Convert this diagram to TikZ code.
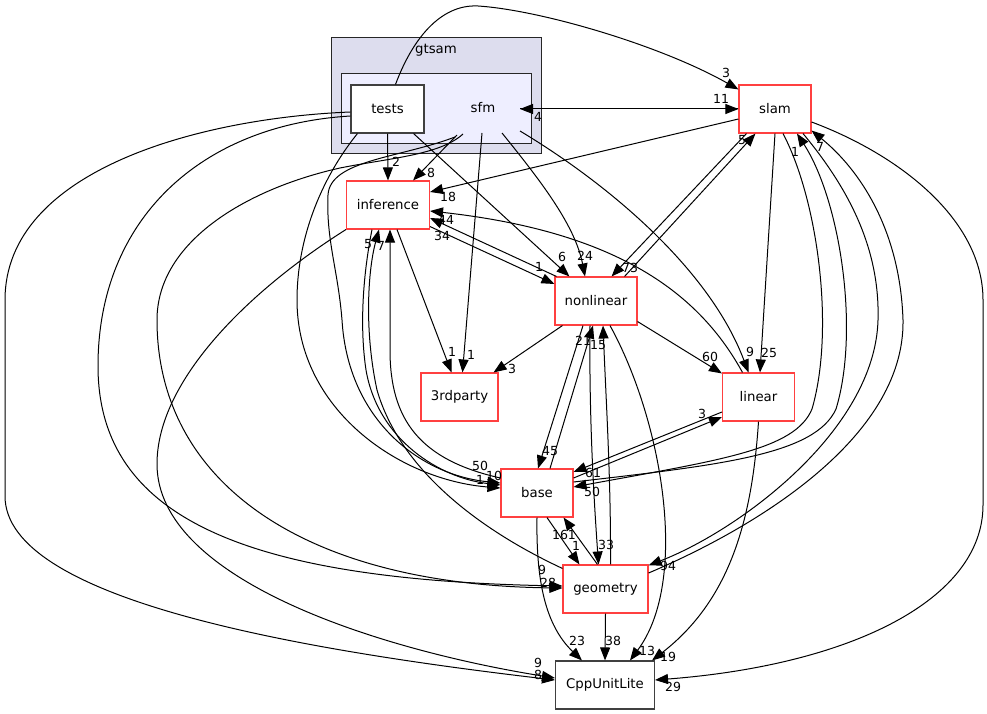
\documentclass[tikz,border=0pt]{standalone}
\usepackage{fontspec}
\setmainfont{DejaVu Sans}
\usetikzlibrary{arrows.meta,calc}
\definecolor{dred}{RGB}{255,64,64}
\definecolor{dgrey}{RGB}{64,64,64}
\definecolor{clA}{RGB}{221,221,238}
\definecolor{clB}{RGB}{238,238,255}
\begin{document}
\begin{tikzpicture}[x=1pt,y=-1pt,
 dirbox/.style={rectangle,draw=dred,line width=1.1pt,fill=white,inner sep=0pt,minimum height=48pt,font=\fontsize{13.3}{15}\selectfont},
 leafbox/.style={dirbox,draw=dgrey},
 edge/.style={line width=1pt,-{Triangle[length=13pt,width=10pt]}},
 lbl/.style={inner sep=0pt,font=\fontsize{12.5}{14}\selectfont},
 clus/.style={draw=black!85,line width=1pt},
 clabel/.style={inner sep=0pt,font=\fontsize{13.3}{15}\selectfont}]
\useasboundingbox (0,0) rectangle (987,714);

% clusters
\draw[clus,fill=clA] (331,38) rectangle (541,154);
\node[clabel] (gtsamlbl) at (436,50) {gtsam};
\draw[clus,fill=clB] (341,74) rectangle (531,144);
\node[clabel] (sfm) at (483,108) {sfm};

% nodes
\node[leafbox,minimum width=73pt] (tests) at (387.5,109) {tests};
\node[dirbox,minimum width=72pt] (slam) at (775,109) {slam};
\node[dirbox,minimum width=83pt] (inference) at (388,205) {inference};
\node[dirbox,minimum width=82pt] (nonlinear) at (596,301) {nonlinear};
\node[dirbox,minimum width=77pt] (thirdparty) at (459.5,397) {3rdparty};
\node[dirbox,minimum width=72pt] (linear) at (758.5,397) {linear};
\node[dirbox,minimum width=72pt] (base) at (537,493) {base};
\node[dirbox,minimum width=85pt] (geometry) at (605.5,589) {geometry};
\node[leafbox,minimum width=99pt] (cpp) at (605,685) {CppUnitLite};

% sfm anchor points
\coordinate (sfmR) at (520,109);
\coordinate (sfmA) at (457,135);
\coordinate (sfmB) at (463,134);
\coordinate (sfmC) at (455,137);
\coordinate (sfmD) at (482,133);
\coordinate (sfmE) at (502,133);
\coordinate (sfmF) at (520,131);

% sfm <-> slam
\draw[edge] (sfmR) -- (slam.west);
\draw[edge] (slam.west) -- (sfmR);
\node[lbl] (l11) at (721,99) {11};
\node[lbl] (l4) at (538,117) {4};

% tests -> slam
\draw[edge] ($(tests.north)+(8,0)$) .. controls (412,40) and (440,4) .. (478,6)
  .. controls (540,10) and (660,45) .. ($(slam.north west)+(0,5)$);
\node[lbl] (l3a) at (726,73) {3};

% tests -> inference
\draw[edge] (tests.south) -- (inference.north);
\node[lbl] (l2a) at (396,162) {2};

% sfm -> inference
\draw[edge] (sfmA) -- ($(inference.north east)+(-17,0)$);
\node[lbl] (l8a) at (431,173) {8};

% slam -> inference
\draw[edge] ($(slam.west)+(0,10)$) -- ($(inference.east)+(0,-13)$);
\node[lbl] (l18) at (448,197) {18};

% linear -> inference
\draw[edge] ($(linear.north)+(-16,0)$) .. controls (700,295) and (620,232) .. ($(inference.east)+(0,6)$);
\node[lbl] (l44) at (446,220) {44};

% nonlinear <-> inference
\draw[edge] ($(nonlinear.north west)+(2,0)$) -- ($(inference.east)+(0,13)$);
\node[lbl] (l34) at (442,236) {34};
\draw[edge] ($(inference.south east)+(0,-3)$) -- ($(nonlinear.west)+(0,-17)$);
\node[lbl] (l1a) at (539,267) {1};

% tests -> nonlinear
\draw[edge] ($(tests.south east)+(-11,0)$) -- ($(nonlinear.north west)+(15,0)$);
\node[lbl] (l6) at (562,257) {6};

% sfm -> nonlinear
\draw[edge] (sfmE) .. controls (540,180) and (575,225) .. ($(nonlinear.north)+(-11,0)$);
\node[lbl] (l24) at (585,256) {24};

% -> 3rdparty
\draw[edge] (sfmD) -- ($(thirdparty.north)+(3,0)$);
\node[lbl] (l1b) at (471,355) {1};
\draw[edge] ($(inference.south)+(9,0)$) -- ($(thirdparty.north)+(-8,0)$);
\node[lbl] (l1c) at (452,352) {1};
\draw[edge] ($(nonlinear.south west)+(8,0)$) -- ($(thirdparty.north east)+(-5,0)$);
\node[lbl] (l3b) at (512,369) {3};

% slam <-> nonlinear
\draw[edge] ($(slam.south west)+(8,0)$) -- ($(nonlinear.north east)+(-26,0)$);
\node[lbl] (l73) at (630,268) {73};
\draw[edge] ($(nonlinear.north east)+(-13,0)$) -- ($(slam.south west)+(17,0)$);
\node[lbl] (l5a) at (742,140) {5};

% -> linear
\draw[edge] (sfmF) .. controls (610,185) and (710,270) .. ($(linear.north)+(-10,0)$);
\node[lbl] (l9a) at (750,352) {9};
\draw[edge] (slam.south) -- ($(linear.north)+(1.5,0)$);
\node[lbl] (l25) at (769,353) {25};
\draw[edge] ($(nonlinear.south east)+(0,-4)$) -- ($(linear.north west)+(0,1)$);
\node[lbl] (l60) at (710,357) {60};

% linear <-> base
\draw[edge] ($(linear.west)+(0,15)$) -- ($(base.east)+(0,-21)$);
\node[lbl] (l61) at (593,473) {61};
\draw[edge] ($(base.east)+(0,-15)$) -- ($(linear.west)+(0,20)$);
\node[lbl] (l3c) at (702,414) {3};

% slam <-> base
\draw[edge] ($(slam.south)+(8,0)$) .. controls (818,200) and (835,330) .. (812,409)
  .. controls (795,450) and (720,460) .. ($(base.east)+(0,-6)$);
\node[lbl] (l50a) at (592,492) {50};
\draw[edge] ($(base.east)+(0,-11)$) .. controls (720,465) and (815,455) .. (836,409)
  .. controls (860,330) and (840,200) .. ($(slam.south)+(22,0)$);
\node[lbl] (l1d) at (795,152) {1};

% slam <-> geometry
\draw[edge] ($(slam.south)+(28,0)$) .. controls (850,190) and (880,250) .. (878,320)
  .. controls (875,430) and (740,530) .. ($(geometry.north east)+(0,1)$);
\node[lbl] (l94) at (668,566) {94};
\draw[edge] ($(geometry.east)+(0,-16)$) .. controls (750,530) and (905,440) .. (903,320)
  .. controls (900,230) and (860,170) .. ($(slam.south east)+(0,-3)$);
\node[lbl] (l7a) at (820,147) {7};

% slam -> CppUnitLite
\draw[edge] ($(slam.east)+(0,13)$) .. controls (900,155) and (983,220) .. (983,300)
  -- (983,505) .. controls (983,600) and (850,665) .. ($(cpp.east)+(0,-5)$);
\node[lbl] (l29) at (673,687) {29};

% linear -> CppUnitLite
\draw[edge] (linear.south) .. controls (752,520) and (730,600) .. ($(cpp.north east)+(-3,0)$);
\node[lbl] (l19) at (668,657) {19};

% nonlinear -> CppUnitLite
\draw[edge] ($(nonlinear.south)+(14,0)$) .. controls (662,420) and (690,580) .. ($(cpp.north)+(25,0)$);
\node[lbl] (l13) at (647,651) {13};

% geometry -> CppUnitLite
\draw[edge] (geometry.south) -- (cpp.north);
\node[lbl] (l38) at (613,641) {38};

% base -> CppUnitLite
\draw[edge] (base.south) .. controls (536,580) and (545,625) .. ($(cpp.north west)+(27,0)$);
\node[lbl] (l23) at (577,641) {23};

% nonlinear <-> base
\draw[edge] ($(nonlinear.south)+(-13,0)$) -- ($(base.north)+(1,0)$);
\node[lbl] (l45) at (550,451) {45};
\draw[edge] ($(base.north)+(13,0)$) -- ($(nonlinear.south)+(-3,0)$);
\node[lbl] (l21) at (583,341) {21};

% nonlinear <-> geometry
\draw[edge] ($(nonlinear.south)+(-6,0)$) .. controls (589,420) and (594,500) .. ($(geometry.north)+(-7,0)$);
\node[lbl] (l33) at (606,545) {33};
\draw[edge] ($(geometry.north)+(5,0)$) .. controls (611,480) and (606,400) .. ($(nonlinear.south)+(7,0)$);
\node[lbl] (l15) at (598,345) {15};

% base <-> geometry
\draw[edge] ($(base.south)+(10,0)$) -- ($(geometry.north west)+(17,0)$);
\node[lbl] (l1e) at (576,546) {1};
\draw[edge] ($(geometry.north)+(-8,0)$) -- ($(base.south east)+(-10,0)$);
\node[lbl] (l161) at (564,535) {161};

% inference -> CppUnitLite
\draw[edge] (inference.south west) .. controls (250,290) and (157,380) .. (157,464)
  .. controls (157,580) and (380,650) .. ($(cpp.west)+(0,-7)$);
% tests -> CppUnitLite
\draw[edge] ($(tests.west)+(0,3)$) .. controls (200,118) and (5,170) .. (5,300)
  -- (5,496) .. controls (5,600) and (300,650) .. ($(cpp.west)+(0,-5)$);
\node[lbl] (l9b) at (538,663) {9};
\node[lbl] (l8b) at (538,675) {8};

% tests -> geometry
\draw[edge] ($(tests.west)+(0,7)$) .. controls (200,125) and (98,220) .. (98,366)
  .. controls (98,520) and (250,580) .. ($(geometry.west)+(0,-3)$);
% sfm -> geometry
\draw[edge] (sfmB) .. controls (440,155) and (390,158) .. (340,168)
  .. controls (250,188) and (157,240) .. (157,320)
  .. controls (157,480) and (300,585) .. ($(geometry.west)+(0,-1)$);
\node[lbl] (l9c) at (542,570) {9};
\node[lbl] (l28) at (548,583) {28};

% sfm -> base
\draw[edge] (sfmC) .. controls (400,158) and (330,160) .. (328,195)
  .. controls (326,240) and (338,270) .. (342,320)
  .. controls (348,420) and (420,475) .. ($(base.west)+(0,-10)$);
% tests -> base
\draw[edge] ($(tests.south west)+(7,0)$) .. controls (320,180) and (297,240) .. (297,300)
  .. controls (297,410) and (400,480) .. ($(base.west)+(0,-5)$);
% inference -> base
\draw[edge] ($(inference.south)+(-16,0)$) .. controls (362,280) and (360,330) .. (366,370)
  .. controls (378,440) and (440,478) .. ($(base.west)+(0,-8)$);
\node[lbl] (l50b) at (480,466) {50};
\node[lbl] (l10) at (494,476) {10};
\node[lbl] (l1f) at (480,480) {1};

% geometry -> inference
\draw[edge] ($(geometry.north west)+(0,4)$) .. controls (480,530) and (400,470) .. (377,390)
  .. controls (364,330) and (368,270) .. ($(inference.south)+(-9,0)$);
\node[lbl] (l5b) at (368,244) {5};
% base -> inference
\draw[edge] ($(base.west)+(0,-15)$) .. controls (420,460) and (390,420) .. (390,350)
  -- ($(inference.south)+(2,0)$);
\node[lbl] (l7b) at (381,246) {7};
\end{tikzpicture}
\end{document}
